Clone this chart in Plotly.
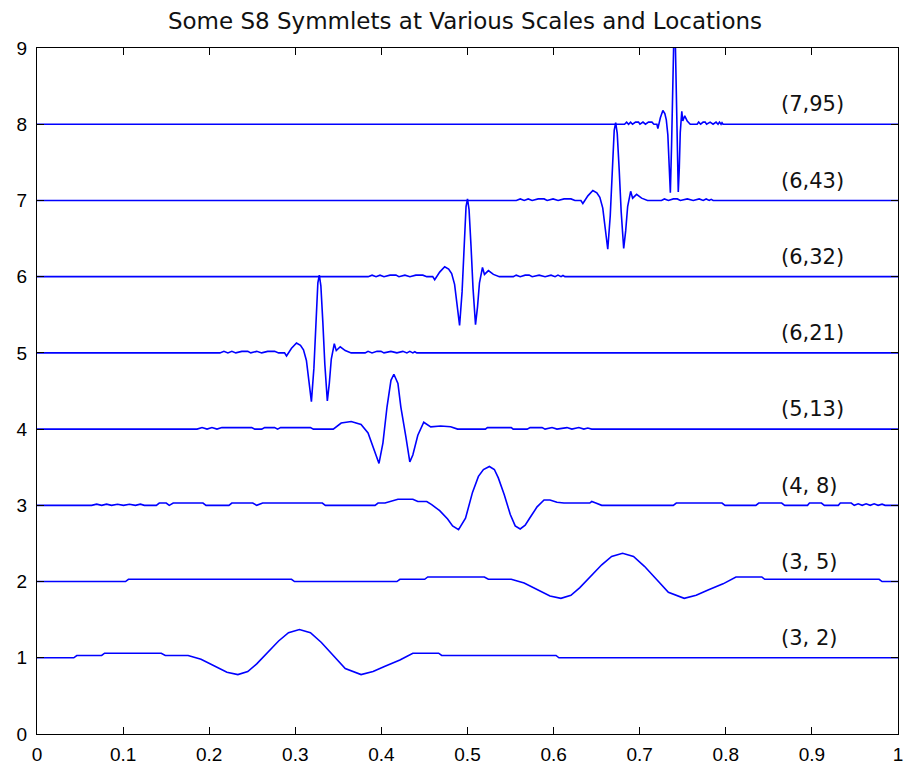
import plotly.graph_objects as go

# ---- data -----------------------------------------------------------------
labels = ["(3, 2)", "(3, 5)", "(4, 8)", "(5,13)", "(6,21)", "(6,32)", "(6,43)", "(7,95)"]
levels = [1, 2, 3, 4, 5, 6, 7, 8]
x_ticks = [0, 0.1, 0.2, 0.3, 0.4, 0.5, 0.6, 0.7, 0.8, 0.9, 1]
x_tick_text = ["0", "0.1", "0.2", "0.3", "0.4", "0.5", "0.6", "0.7", "0.8", "0.9", "1"]
y_ticks = [0, 1, 2, 3, 4, 5, 6, 7, 8, 9]

x_3_2 = [0, 0.0427, 0.0462, 0.0751, 0.0785, 0.1443, 0.1490, 0.1755, 0.1905, 0.2090,
         0.2206, 0.2333, 0.2448, 0.2552, 0.2667, 0.2806, 0.2921, 0.3048, 0.3176, 0.3303,
         0.3441, 0.3580, 0.3764, 0.3903, 0.4042, 0.4215, 0.4365, 0.4665, 0.4700, 0.6028,
         0.6062, 1]
a_3_2 = [0, 0, 0.03, 0.03, 0.06, 0.06, 0.03, 0.03, -0.02, -0.12,
         -0.19, -0.22, -0.18, -0.08, 0.06, 0.22, 0.33, 0.37, 0.33, 0.2,
         0.03, -0.14, -0.22, -0.18, -0.11, -0.03, 0.06, 0.06, 0.03, 0.03,
         0, 0]

x_3_5 = [0, 0.1028, 0.1062, 0.2956, 0.2991, 0.4180, 0.4215, 0.4503, 0.4538, 0.5196,
         0.5242, 0.5508, 0.5658, 0.5843, 0.5958, 0.6085, 0.6201, 0.6305, 0.6420, 0.6559,
         0.6674, 0.6801, 0.6928, 0.7055, 0.7194, 0.7333, 0.7517, 0.7656, 0.7794, 0.7968,
         0.8118, 0.8418, 0.8453, 0.9781, 0.9815, 1]
a_3_5 = [0, 0, 0.03, 0.03, 0, 0, 0.03, 0.03, 0.06, 0.06,
         0.03, 0.03, -0.02, -0.12, -0.19, -0.22, -0.18, -0.08, 0.06, 0.22,
         0.33, 0.37, 0.33, 0.2, 0.03, -0.14, -0.22, -0.18, -0.11, -0.03,
         0.06, 0.06, 0.03, 0.03, 0, 0]

x_4_8 = [0, 0.0635, 0.0693, 0.0751, 0.0808, 0.0866, 0.0935, 0.1005, 0.1074, 0.1143,
         0.1201, 0.1247, 0.1386, 0.1420, 0.1501, 0.1536, 0.1582, 0.1928, 0.1963, 0.2229,
         0.2263, 0.2506, 0.2552, 0.2621, 0.3314, 0.3349, 0.3926, 0.3961, 0.4042, 0.4099,
         0.4192, 0.4365, 0.4423, 0.4527, 0.4584, 0.4677, 0.4769, 0.4827, 0.4896, 0.4977,
         0.5058, 0.5127, 0.5185, 0.5254, 0.5312, 0.5358, 0.5427, 0.5497, 0.5554, 0.5612,
         0.5670, 0.5727, 0.5808, 0.5889, 0.5958, 0.6039, 0.6120, 0.6420, 0.6443, 0.6490,
         0.6559, 0.7390, 0.7425, 0.7956, 0.7991, 0.8349, 0.8383, 0.8649, 0.8684, 0.8949,
         0.8972, 0.9111, 0.9145, 0.9307, 0.9330, 0.9457, 0.9492, 0.9538, 0.9584, 0.9630,
         0.9677, 0.9723, 0.9769, 0.9815, 0.9850, 1]
a_4_8 = [0, 0, 0.015, 0, 0.015, 0, 0.015, 0, 0.015, 0,
         0.015, 0, 0, 0.03, 0.03, 0, 0.03, 0.03, 0, 0,
         0.03, 0.03, 0, 0.03, 0.03, 0, 0, 0.03, 0.03, 0.05,
         0.08, 0.08, 0.05, 0.05, 0.01, -0.07, -0.18, -0.27, -0.32, -0.17,
         0.17, 0.38, 0.47, 0.51, 0.47, 0.36, 0.14, -0.12, -0.27, -0.31,
         -0.26, -0.16, -0.02, 0.07, 0.07, 0.04, 0.03, 0.03, 0.05, 0.03,
         0, 0, 0.03, 0.03, 0, 0, 0.03, 0.03, 0, 0,
         0.03, 0.03, 0, 0, 0.03, 0.03, 0, 0.02, 0, 0.02,
         0, 0.02, 0, 0.015, 0, 0]

x_5_13 = [0, 0.1859, 0.1917, 0.1975, 0.2032, 0.2090, 0.2148, 0.2494, 0.2529, 0.2610,
          0.2644, 0.2760, 0.2794, 0.2829, 0.3176, 0.3210, 0.3441, 0.3533, 0.3649, 0.3764,
          0.3845, 0.3903, 0.3972, 0.4018, 0.4065, 0.4111, 0.4145, 0.4192, 0.4226, 0.4284,
          0.4330, 0.4365, 0.4423, 0.4492, 0.4573, 0.4688, 0.4804, 0.4885, 0.5208, 0.5231,
          0.5508, 0.5531, 0.5693, 0.5727, 0.5866, 0.5901, 0.5982, 0.6039, 0.6155, 0.6212,
          0.6293, 0.6351, 0.6397, 0.6443, 1]
a_5_13 = [0, 0, 0.02, 0, 0.02, 0, 0.02, 0.02, 0, 0,
          0.02, 0.02, 0, 0.02, 0.02, 0, 0, 0.08, 0.1, 0.06,
          -0.05, -0.24, -0.45, -0.18, 0.29, 0.64, 0.72, 0.6, 0.29, -0.1,
          -0.43, -0.34, -0.08, 0.09, 0.03, 0.04, 0.03, 0, 0, 0.02,
          0.02, 0, 0, 0.02, 0.02, 0, 0.02, 0, 0.02, 0,
          0.02, 0, 0.015, 0, 0]

# the three scale-6 wavelets have the same shape
a_scale6 = [0, 0, 0.02, 0, 0.02, 0, 0.02, 0.02, 0, 0.02, 0,
            0.02, 0.02, 0, 0, -0.04, 0.06, 0.13, 0.1, 0.04, -0.1,
            -0.38, -0.64, -0.2, 0.45, 0.92, 1.02, 0.88, 0.4, -0.15, -0.63,
            -0.4, -0.08, 0.12, 0.03, 0.08, 0.03, 0, 0, 0.02, 0,
            0.02, 0.02, 0, 0.02, 0, 0.02, 0, 0.02, 0, 0.015,
            0, 0]

x_6_21 = [0, 0.2125, 0.2171, 0.2217, 0.2263, 0.2309, 0.2379, 0.2448, 0.2483, 0.2552,
          0.2610, 0.2679, 0.2760, 0.2806, 0.2875, 0.2898, 0.2956, 0.3014, 0.3060, 0.3095,
          0.3129, 0.3158, 0.3187, 0.3216, 0.3239, 0.3262, 0.3279, 0.3297, 0.3320, 0.3343,
          0.3372, 0.3395, 0.3418, 0.3453, 0.3476, 0.3522, 0.3580, 0.3649, 0.3811, 0.3845,
          0.3891, 0.3949, 0.3995, 0.4030, 0.4111, 0.4180, 0.4249, 0.4296, 0.4330, 0.4365,
          0.4388, 0.4411, 1]

x_6_32 = [0, 0.3846, 0.3892, 0.3938, 0.3984, 0.4030, 0.4100, 0.4169, 0.4204, 0.4273,
          0.4331, 0.4400, 0.4481, 0.4527, 0.4596, 0.4619, 0.4677, 0.4735, 0.4781, 0.4816,
          0.4850, 0.4879, 0.4908, 0.4937, 0.4960, 0.4983, 0.5000, 0.5018, 0.5041, 0.5064,
          0.5093, 0.5116, 0.5139, 0.5174, 0.5197, 0.5243, 0.5301, 0.5370, 0.5532, 0.5566,
          0.5612, 0.5670, 0.5716, 0.5751, 0.5832, 0.5901, 0.5970, 0.6017, 0.6051, 0.6086,
          0.6109, 0.6132, 1]

x_6_43 = [0, 0.5567, 0.5613, 0.5659, 0.5705, 0.5751, 0.5821, 0.5890, 0.5925, 0.5994,
          0.6052, 0.6121, 0.6202, 0.6248, 0.6317, 0.6340, 0.6398, 0.6456, 0.6502, 0.6537,
          0.6571, 0.6600, 0.6629, 0.6658, 0.6681, 0.6704, 0.6721, 0.6739, 0.6762, 0.6785,
          0.6814, 0.6837, 0.6860, 0.6895, 0.6918, 0.6964, 0.7022, 0.7091, 0.7253, 0.7287,
          0.7333, 0.7391, 0.7437, 0.7472, 0.7553, 0.7622, 0.7691, 0.7738, 0.7772, 0.7807,
          0.7830, 0.7853, 1]

x_7_95 = [0, 0.6824, 0.6848, 0.6871, 0.6894, 0.6917, 0.6952, 0.6986, 0.7003, 0.7038,
          0.7067, 0.7102, 0.7142, 0.7165, 0.7200, 0.7211, 0.7240, 0.7269, 0.7292, 0.7309,
          0.7327, 0.7341, 0.7356, 0.7370, 0.7382, 0.7393, 0.7402, 0.7411, 0.7422, 0.7434,
          0.7448, 0.7460, 0.7471, 0.7489, 0.7500, 0.7523, 0.7552, 0.7587, 0.7667, 0.7685,
          0.7708, 0.7737, 0.7760, 0.7777, 0.7818, 0.7852, 0.7887, 0.7910, 0.7927, 0.7945,
          0.7956, 0.7968, 1]
a_7_95 = [0, 0, 0.028, 0, 0.028, 0, 0.028, 0.028, 0, 0.028,
          0, 0.028, 0.028, 0, 0, -0.057, 0.085, 0.18, 0.14, 0.057,
          -0.14, -0.54, -0.9, -0.28, 0.64, 1.3, 1.44, 1.24, 0.57, -0.21,
          -0.89, -0.57, -0.11, 0.17, 0.042, 0.11, 0.042, 0, 0, 0.028,
          0, 0.028, 0.028, 0, 0.028, 0, 0.028, 0, 0.028, 0,
          0.02, 0, 0]

series_x = [x_3_2, x_3_5, x_4_8, x_5_13, x_6_21, x_6_32, x_6_43, x_7_95]
series_a = [a_3_2, a_3_5, a_4_8, a_5_13, a_scale6, a_scale6, a_scale6, a_7_95]

# ---- figure -----------------------------------------------------------------
TICKFONT = "Liberation Sans, Arial, Helvetica, sans-serif"
WIDEFONT = "DejaVu Sans, Verdana, sans-serif"
fig = go.Figure()
for xs, amps, lev, lab in zip(series_x, series_a, levels, labels):
    fig.add_trace(go.Scatter(
        x=xs, y=[lev + v for v in amps], mode="lines",
        line=dict(color="#0000ff", width=1.6), name=lab, hoverinfo="skip"))
    fig.add_annotation(x=0.862, y=lev + 0.26, text=lab, showarrow=False,
                       xanchor="left", yanchor="middle",
                       font=dict(family=WIDEFONT, size=21, color="#111111"))

axis_common = dict(showline=True, linecolor="black", linewidth=1, mirror="ticks",
                   ticks="inside", ticklen=7, tickcolor="black", tickwidth=1,
                   showgrid=False, zeroline=False, ticklabeloverflow="allow",
                   tickfont=dict(family=TICKFONT, size=19, color="black"))
fig.update_xaxes(range=[0, 1], tickvals=x_ticks, ticktext=x_tick_text,
                 ticklabelstandoff=3, **axis_common)
fig.update_yaxes(range=[0, 9], tickvals=y_ticks, ticklabelstandoff=5, **axis_common)

fig.update_layout(
    width=906, height=768,
    margin=dict(l=37, r=3, t=48, b=33),
    paper_bgcolor="white", plot_bgcolor="white",
    showlegend=False,
    title=dict(text="Some S8 Symmlets at Various Scales and Locations",
               x=465 / 906, xanchor="center", y=1 - 21 / 768, yanchor="middle",
               font=dict(family=WIDEFONT, size=23, color="#111111")),
)

fig.write_html("out.html")
